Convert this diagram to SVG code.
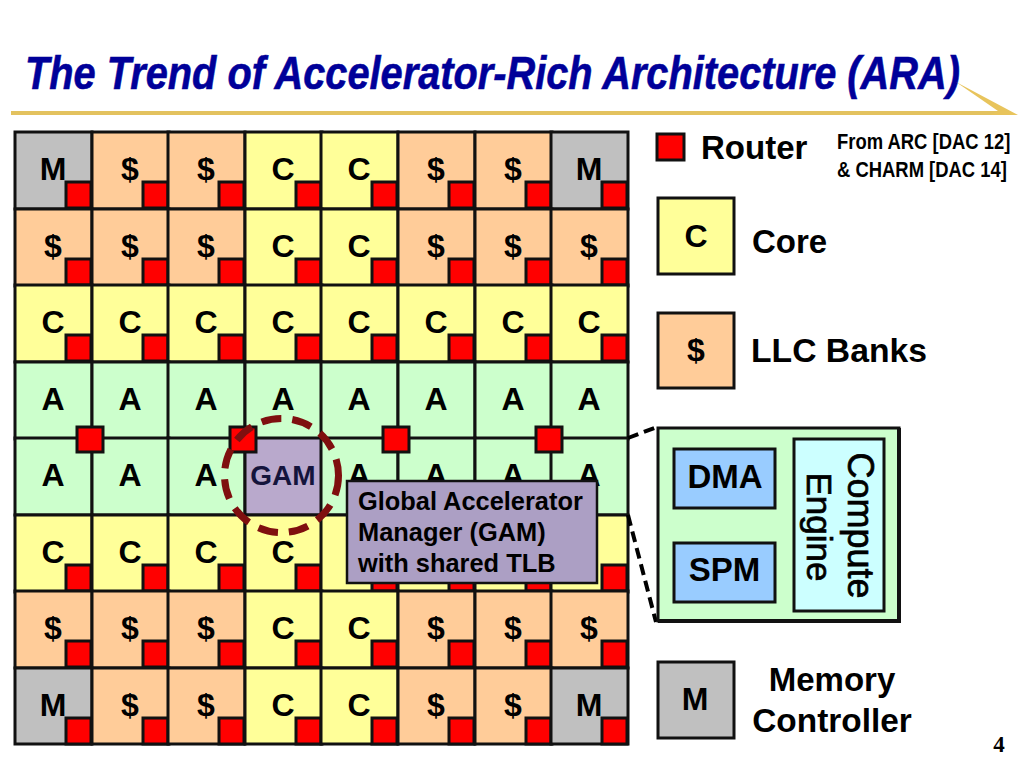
<svg xmlns="http://www.w3.org/2000/svg" width="1024" height="768" viewBox="0 0 1024 768">
<style>
text{font-family:"Liberation Sans",Arial,sans-serif;font-weight:bold;fill:#000}
.b{stroke:#111;stroke-width:3}
.m{fill:#c0c0c0}.d{fill:#ffcc99}.c{fill:#ffff99}.a{fill:#ccffcc}
.cell{width:77px;height:77px}
.r{fill:#ff0000;stroke:#111;stroke-width:3;width:25px;height:26px;x:51px;y:50px}
.mr{fill:#ff0000;stroke:#111;stroke-width:3;width:26px;height:25px}
.t{font-size:32px;text-anchor:middle}
.lg{font-size:33px}
.ctr{text-anchor:middle}
</style>
<g id="title">
<text transform="translate(25,89) scale(.846,1)" font-size="47" font-style="italic" style="fill:#000099;stroke:#000099;stroke-width:.6">The Trend of Accelerator-Rich Architecture (ARA)</text>
<rect x="11" y="111" width="990" height="4" fill="#e3c25f"/>
<polygon points="956,82 1018,115 990,115 998,111" fill="#e8c45c"/>
</g>
<g id="grid">
<g id="n11" transform="translate(15,132)"><rect class="cell m b"/><text class="t" x="38" y="48">M</text><rect class="r"/></g>
<g id="n12" transform="translate(92,132)"><rect class="cell d b"/><text class="t" x="38" y="48">$</text><rect class="r"/></g>
<g id="n13" transform="translate(168,132)"><rect class="cell d b"/><text class="t" x="38" y="48">$</text><rect class="r"/></g>
<g id="n14" transform="translate(245,132)"><rect class="cell c b"/><text class="t" x="38" y="48">C</text><rect class="r"/></g>
<g id="n15" transform="translate(321,132)"><rect class="cell c b"/><text class="t" x="38" y="48">C</text><rect class="r"/></g>
<g id="n16" transform="translate(398,132)"><rect class="cell d b"/><text class="t" x="38" y="48">$</text><rect class="r"/></g>
<g id="n17" transform="translate(475,132)"><rect class="cell d b"/><text class="t" x="38" y="48">$</text><rect class="r"/></g>
<g id="n18" transform="translate(551,132)"><rect class="cell m b"/><text class="t" x="38" y="48">M</text><rect class="r"/></g>

<g id="n21" transform="translate(15,209)"><rect class="cell d b"/><text class="t" x="38" y="48">$</text><rect class="r"/></g>
<g id="n22" transform="translate(92,209)"><rect class="cell d b"/><text class="t" x="38" y="48">$</text><rect class="r"/></g>
<g id="n23" transform="translate(168,209)"><rect class="cell d b"/><text class="t" x="38" y="48">$</text><rect class="r"/></g>
<g id="n24" transform="translate(245,209)"><rect class="cell c b"/><text class="t" x="38" y="48">C</text><rect class="r"/></g>
<g id="n25" transform="translate(321,209)"><rect class="cell c b"/><text class="t" x="38" y="48">C</text><rect class="r"/></g>
<g id="n26" transform="translate(398,209)"><rect class="cell d b"/><text class="t" x="38" y="48">$</text><rect class="r"/></g>
<g id="n27" transform="translate(475,209)"><rect class="cell d b"/><text class="t" x="38" y="48">$</text><rect class="r"/></g>
<g id="n28" transform="translate(551,209)"><rect class="cell d b"/><text class="t" x="38" y="48">$</text><rect class="r"/></g>

<g id="n31" transform="translate(15,285)"><rect class="cell c b"/><text class="t" x="38" y="48">C</text><rect class="r"/></g>
<g id="n32" transform="translate(92,285)"><rect class="cell c b"/><text class="t" x="38" y="48">C</text><rect class="r"/></g>
<g id="n33" transform="translate(168,285)"><rect class="cell c b"/><text class="t" x="38" y="48">C</text><rect class="r"/></g>
<g id="n34" transform="translate(245,285)"><rect class="cell c b"/><text class="t" x="38" y="48">C</text><rect class="r"/></g>
<g id="n35" transform="translate(321,285)"><rect class="cell c b"/><text class="t" x="38" y="48">C</text><rect class="r"/></g>
<g id="n36" transform="translate(398,285)"><rect class="cell c b"/><text class="t" x="38" y="48">C</text><rect class="r"/></g>
<g id="n37" transform="translate(475,285)"><rect class="cell c b"/><text class="t" x="38" y="48">C</text><rect class="r"/></g>
<g id="n38" transform="translate(551,285)"><rect class="cell c b"/><text class="t" x="38" y="48">C</text><rect class="r"/></g>

<g id="n41" transform="translate(15,362)"><rect class="cell a b"/><text class="t" x="38" y="48">A</text></g>
<g id="n42" transform="translate(92,362)"><rect class="cell a b"/><text class="t" x="38" y="48">A</text></g>
<g id="n43" transform="translate(168,362)"><rect class="cell a b"/><text class="t" x="38" y="48">A</text></g>
<g id="n44" transform="translate(245,362)"><rect class="cell a b"/><text class="t" x="38" y="48">A</text></g>
<g id="n45" transform="translate(321,362)"><rect class="cell a b"/><text class="t" x="38" y="48">A</text></g>
<g id="n46" transform="translate(398,362)"><rect class="cell a b"/><text class="t" x="38" y="48">A</text></g>
<g id="n47" transform="translate(475,362)"><rect class="cell a b"/><text class="t" x="38" y="48">A</text></g>
<g id="n48" transform="translate(551,362)"><rect class="cell a b"/><text class="t" x="38" y="48">A</text></g>

<g id="n51" transform="translate(15,438)"><rect class="cell a b"/><text class="t" x="38" y="48">A</text></g>
<g id="n52" transform="translate(92,438)"><rect class="cell a b"/><text class="t" x="38" y="48">A</text></g>
<g id="n53" transform="translate(168,438)"><rect class="cell a b"/><text class="t" x="38" y="48">A</text></g>
<g id="gam" transform="translate(245,438)"><rect class="cell b" fill="#b9a9cc"/><text x="38" y="47" font-size="28" class="ctr" style="fill:#14143c">GAM</text></g>
<g id="n55" transform="translate(321,438)"><rect class="cell a b"/><text class="t" x="38" y="48">A</text></g>
<g id="n56" transform="translate(398,438)"><rect class="cell a b"/><text class="t" x="38" y="48">A</text></g>
<g id="n57" transform="translate(475,438)"><rect class="cell a b"/><text class="t" x="38" y="48">A</text></g>
<g id="n58" transform="translate(551,438)"><rect class="cell a b"/><text class="t" x="38" y="48">A</text></g>

<g id="n61" transform="translate(15,515)"><rect class="cell c b"/><text class="t" x="38" y="48">C</text><rect class="r"/></g>
<g id="n62" transform="translate(92,515)"><rect class="cell c b"/><text class="t" x="38" y="48">C</text><rect class="r"/></g>
<g id="n63" transform="translate(168,515)"><rect class="cell c b"/><text class="t" x="38" y="48">C</text><rect class="r"/></g>
<g id="n64" transform="translate(245,515)"><rect class="cell c b"/><text class="t" x="38" y="48">C</text><rect class="r"/></g>
<g id="n65" transform="translate(321,515)"><rect class="cell c b"/><rect class="r"/></g>
<g id="n66" transform="translate(398,515)"><rect class="cell c b"/><rect class="r"/></g>
<g id="n67" transform="translate(475,515)"><rect class="cell c b"/><rect class="r"/></g>
<g id="n68" transform="translate(551,515)"><rect class="cell c b"/><rect class="r"/></g>

<g id="n71" transform="translate(15,591)"><rect class="cell d b"/><text class="t" x="38" y="48">$</text><rect class="r"/></g>
<g id="n72" transform="translate(92,591)"><rect class="cell d b"/><text class="t" x="38" y="48">$</text><rect class="r"/></g>
<g id="n73" transform="translate(168,591)"><rect class="cell d b"/><text class="t" x="38" y="48">$</text><rect class="r"/></g>
<g id="n74" transform="translate(245,591)"><rect class="cell c b"/><text class="t" x="38" y="48">C</text><rect class="r"/></g>
<g id="n75" transform="translate(321,591)"><rect class="cell c b"/><text class="t" x="38" y="48">C</text><rect class="r"/></g>
<g id="n76" transform="translate(398,591)"><rect class="cell d b"/><text class="t" x="38" y="48">$</text><rect class="r"/></g>
<g id="n77" transform="translate(475,591)"><rect class="cell d b"/><text class="t" x="38" y="48">$</text><rect class="r"/></g>
<g id="n78" transform="translate(551,591)"><rect class="cell d b"/><text class="t" x="38" y="48">$</text><rect class="r"/></g>

<g id="n81" transform="translate(15,668)"><rect class="cell m b" style="height:76px"/><text class="t" x="38" y="48">M</text><rect class="r"/></g>
<g id="n82" transform="translate(92,668)"><rect class="cell d b" style="height:76px"/><text class="t" x="38" y="48">$</text><rect class="r"/></g>
<g id="n83" transform="translate(168,668)"><rect class="cell d b" style="height:76px"/><text class="t" x="38" y="48">$</text><rect class="r"/></g>
<g id="n84" transform="translate(245,668)"><rect class="cell c b" style="height:76px"/><text class="t" x="38" y="48">C</text><rect class="r"/></g>
<g id="n85" transform="translate(321,668)"><rect class="cell c b" style="height:76px"/><text class="t" x="38" y="48">C</text><rect class="r"/></g>
<g id="n86" transform="translate(398,668)"><rect class="cell d b" style="height:76px"/><text class="t" x="38" y="48">$</text><rect class="r"/></g>
<g id="n87" transform="translate(475,668)"><rect class="cell d b" style="height:76px"/><text class="t" x="38" y="48">$</text><rect class="r"/></g>
<g id="n88" transform="translate(551,668)"><rect class="cell m b" style="height:76px"/><text class="t" x="38" y="48">M</text><rect class="r"/></g>
</g>
<g id="mid-routers">
<rect class="mr" x="77" y="427"/>
<rect class="mr" x="230" y="427"/>
<rect class="mr" x="383" y="427"/>
<rect class="mr" x="536" y="427"/>
</g>
<g id="connectors" fill="none" stroke="#000" stroke-width="4" stroke-dasharray="11 6">
<line x1="628" y1="438" x2="657" y2="427"/>
<line x1="628" y1="515" x2="656" y2="622"/>
</g>
<g id="gam-ring"><circle cx="281.5" cy="475.5" r="57" fill="none" stroke="#7f0f0f" stroke-width="7" stroke-dasharray="20 11"/></g>
<g id="callout">
<rect x="347" y="481" width="250" height="102" fill="#ac9fc4" stroke="#111" stroke-width="2.5"/>
<text x="358" y="510" font-size="25.4">Global Accelerator</text>
<text x="358" y="541" font-size="25.4">Manager (GAM)</text>
<text x="358" y="572" font-size="25.4">with shared TLB</text>
</g>
<g id="legend-router">
<rect x="657" y="134" width="27" height="26" fill="#ff0000" stroke="#111" stroke-width="3"/>
<text class="lg" x="701" y="159">Router</text>
</g>
<g id="source-note">
<text transform="translate(837,149) scale(.838,1)" font-size="22">From ARC [DAC 12]</text>
<text transform="translate(837,177) scale(.838,1)" font-size="22">&amp; CHARM [DAC 14]</text>
</g>
<g id="legend-core">
<rect x="658" y="198" width="76" height="76" class="c b"/>
<text class="t" x="696" y="247">C</text>
<text class="lg" x="752" y="253">Core</text>
</g>
<g id="legend-llc">
<rect x="658" y="313" width="76" height="75" class="d b"/>
<text class="t" x="696" y="361">$</text>
<text x="751" y="362" font-size="33.7">LLC Banks</text>
</g>
<g id="accelerator">
<rect x="658" y="428" width="241" height="193" class="a b"/>
<polyline points="899,428 899,621 658,621" fill="none" stroke="#111" stroke-width="4"/>
<g id="dma">
<rect x="674" y="449" width="101" height="59" fill="#99ccff" class="b"/>
<text class="lg ctr" x="725" y="488">DMA</text>
</g>
<g id="spm">
<rect x="674" y="543" width="101" height="59" fill="#99ccff" class="b"/>
<text class="lg ctr" x="724.500" y="581">SPM</text>
</g>
<g id="compute-engine">
<rect x="794" y="439" width="90" height="172" fill="#ccffff" class="b"/>
<text transform="translate(848,525.5) rotate(90)" font-size="36" text-anchor="middle" style="font-weight:normal;stroke:#000;stroke-width:.7">Compute</text>
<text transform="translate(807,527) rotate(90)" font-size="35" text-anchor="middle" style="font-weight:normal;stroke:#000;stroke-width:.7">Engine</text>
</g>
</g>
<g id="legend-memory">
<rect x="658" y="662" width="76" height="76" class="m b"/>
<text class="t" x="695" y="710">M</text>
<text class="lg ctr" x="832" y="691">Memory</text>
<text class="ctr" x="832" y="732" font-size="33.4">Controller</text>
</g>
<text id="page-number" x="999" y="752" font-size="23" text-anchor="middle" style="font-family:'Liberation Serif',serif">4</text>
</svg>
